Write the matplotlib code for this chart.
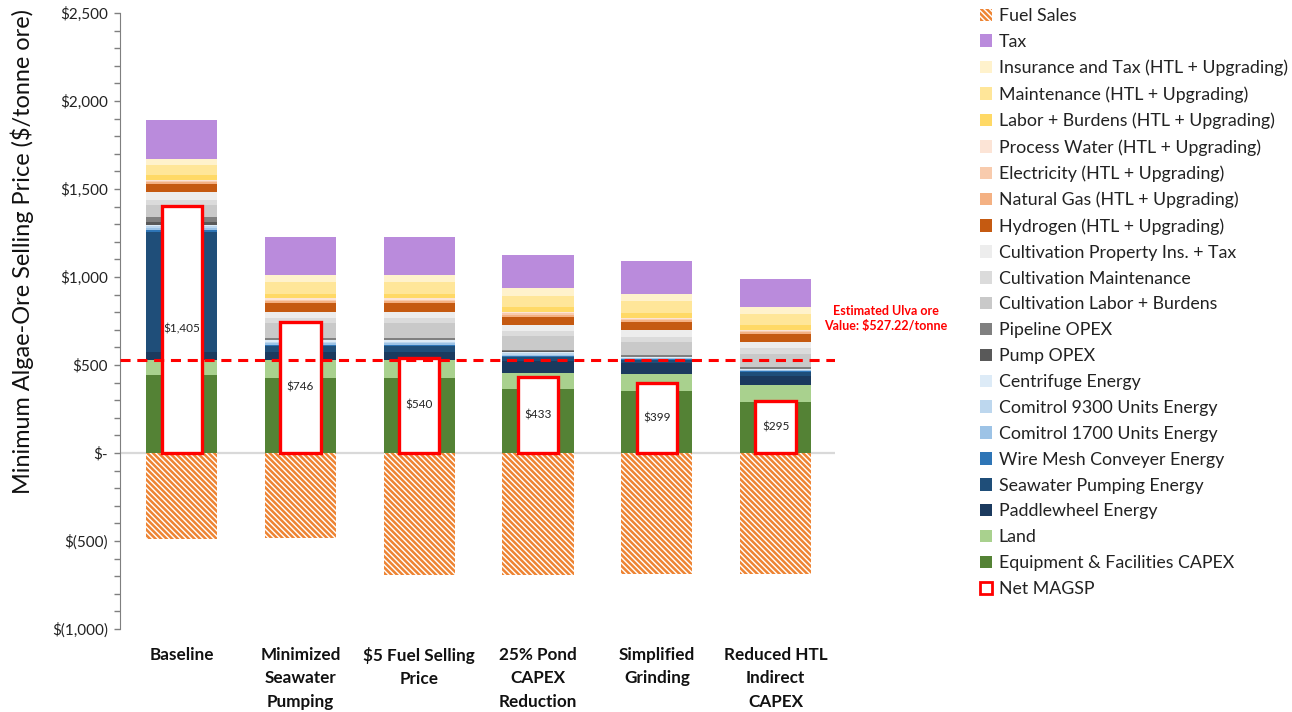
import matplotlib
matplotlib.use("Agg")
import matplotlib.pyplot as plt
from matplotlib.patches import Patch
from matplotlib.ticker import MultipleLocator, FuncFormatter
import matplotlib.transforms as mtransforms
import numpy as np

plt.rcParams['font.family'] = ['Lato', 'DejaVu Sans']
plt.rcParams['text.parse_math'] = False
plt.rcParams['hatch.linewidth'] = 1.8

# ---------------- data ----------------
scenarios = ["Baseline", "Minimized\nSeawater\nPumping", "$5 Fuel Selling\nPrice",
             "25% Pond\nCAPEX\nReduction", "Simplified\nGrinding", "Reduced HTL\nIndirect\nCAPEX"]

equipment   = [441, 424, 424, 362, 354, 292]
land        = [ 88, 104, 104,  95,  95,  95]
paddlewheel = [ 47,  47,  47,  67,  60,  51]
seawater    = [682,  32,  32,  20,  22,  25]
wire_mesh   = [  8,   8,   8,   6,   3,   3]
comitrol1700= [ 10,   9,   9,   8,   3,   4]
comitrol9300= [ 12,   9,   9,  10,   3,   3]
centrifuge  = [  8,   8,   8,   8,   3,   3]
pump_opex   = [ 19,   3,   3,   3,   3,   3]
pipeline    = [ 25,   8,   8,   6,   8,   8]
cult_labor  = [ 70,  85,  85,  80,  76,  75]
cult_maint  = [ 28,  28,  28,  30,  30,  32]
cult_prop   = [ 47,  38,  38,  32,  38,  34]
hydrogen    = [ 44,  47,  47,  47,  45,  47]
natural_gas = [ 10,  12,  12,  12,  11,  11]
electricity = [  7,   9,   9,   9,   8,   8]
process_wtr = [  5,   7,   7,   7,   6,   6]
labor       = [ 28,  28,  28,  25,  28,  26]
maintenance = [ 56,  66,  66,  64,  66,  62]
insurance   = [ 38,  42,  42,  44,  44,  41]
tax         = [218, 214, 216, 189, 184, 157]
fuel_sales  = [-487, -484, -692, -692, -688, -688]
net_magsp   = [1405, 746, 540, 433, 399, 295]
ore_value   = 527.22

stack = [
    ("Equipment & Facilities CAPEX", equipment, "#548235"),
    ("Land", land, "#A9D18E"),
    ("Paddlewheel Energy", paddlewheel, "#1B3A5E"),
    ("Seawater Pumping Energy", seawater, "#1F4E79"),
    ("Wire Mesh Conveyer Energy", wire_mesh, "#2E75B6"),
    ("Comitrol 1700 Units Energy", comitrol1700, "#9DC3E6"),
    ("Comitrol 9300 Units Energy", comitrol9300, "#BDD7EE"),
    ("Centrifuge Energy", centrifuge, "#DDEBF7"),
    ("Pump OPEX", pump_opex, "#595959"),
    ("Pipeline OPEX", pipeline, "#808080"),
    ("Cultivation Labor + Burdens", cult_labor, "#C9C9C9"),
    ("Cultivation Maintenance", cult_maint, "#DBDBDB"),
    ("Cultivation Property Ins. + Tax", cult_prop, "#EDEDED"),
    ("Hydrogen (HTL + Upgrading)", hydrogen, "#C55A11"),
    ("Natural Gas (HTL + Upgrading)", natural_gas, "#F4B183"),
    ("Electricity (HTL + Upgrading)", electricity, "#F8CBAD"),
    ("Process Water (HTL + Upgrading)", process_wtr, "#FCE4D6"),
    ("Labor + Burdens (HTL + Upgrading)", labor, "#FFD966"),
    ("Maintenance (HTL + Upgrading)", maintenance, "#FFE699"),
    ("Insurance and Tax (HTL + Upgrading)", insurance, "#FFF2CC"),
    ("Tax", tax, "#BA8BDC"),
]
fuel_color = "#EE8433"
HATCH = "\\\\\\\\\\\\"

# ---------------- figure ----------------
W, H = 1292, 712
fig = plt.figure(figsize=(W / 100, H / 100), dpi=100)
ax = fig.add_axes([120 / W, 1 - 629 / H, (835 - 120) / W, (629 - 13) / H])

x = np.arange(len(scenarios))
bw = 0.6
bottom = np.zeros(len(scenarios))
for name, vals, col in stack:
    v = np.array(vals, dtype=float)
    ax.bar(x, v, bw, bottom=bottom, color=col, linewidth=0, zorder=2)
    bottom += v

ax.bar(x, fuel_sales, bw, facecolor="white", edgecolor=fuel_color, hatch=HATCH,
       linewidth=0, zorder=2)

ax.bar(x, net_magsp, 0.34, facecolor="white", edgecolor="#FF0000", linewidth=2.4, zorder=3)
for xi, v in zip(x, net_magsp):
    ax.text(xi, v / 2, f"${v:,.0f}", ha="center", va="center", fontsize=8.5,
            color="#222222", zorder=4)

ax.axhline(0, color="#D9D9D9", lw=1.6, zorder=1)
ax.axhline(ore_value, color="#FF0000", lw=2.2, dashes=(3.3, 2.2), zorder=5)
ax.text(5.93, 764, "Estimated Ulva ore\nValue: $527.22/tonne", color="#FF0000",
        fontsize=9, fontweight="bold", ha="center", va="center", clip_on=False,
        linespacing=1.25)

ax.set_xlim(-0.52, 5.5)
ax.set_ylim(-1000, 2500)
ax.yaxis.set_major_locator(MultipleLocator(500))
ax.yaxis.set_minor_locator(MultipleLocator(100))


def fmt(v, pos):
    if abs(v) < 1e-6:
        return "$-"
    if v < 0:
        return f"$({-v:,.0f})"
    return f"${v:,.0f}"


ax.yaxis.set_major_formatter(FuncFormatter(fmt))
ax.tick_params(axis="y", which="both", direction="out", length=4.5, width=1,
               color="#7F7F7F", labelsize=11, labelcolor="#222222", pad=4)
ax.set_xticks([])

trans = mtransforms.blended_transform_factory(ax.transData, ax.transAxes)
for xi, lab in zip(x, scenarios):
    ax.text(xi, -(647 - 629) / 616, lab, transform=trans, ha="center", va="top",
            fontsize=12.3, fontweight="bold", color="#111111", linespacing=1.57,
            clip_on=False)

for s in ["top", "right", "bottom"]:
    ax.spines[s].set_visible(False)
ax.spines["left"].set_color("#7F7F7F")

fig.text(22 / W, 1 - 252 / H, "Minimum Algae-Ore Selling Price ($/tonne ore)",
         rotation=90, ha="center", va="center", fontsize=16.9, color="#111111")

# legend
handles = [Patch(facecolor="white", edgecolor=fuel_color, hatch=HATCH, linewidth=0,
                 label="Fuel Sales")]
for name, vals, col in reversed(stack):
    handles.append(Patch(facecolor=col, edgecolor="none", label=name))
handles.append(Patch(facecolor="white", edgecolor="#FF0000", linewidth=2, label="Net MAGSP"))

fig.legend(handles=handles, loc="upper left", bbox_to_anchor=(980 / W, 1 - 8 / H),
           frameon=False, fontsize=12.8, handlelength=0.7, handleheight=0.7,
           handletextpad=0.35, labelspacing=0.555, borderaxespad=0, borderpad=0,
           labelcolor="#222222")

fig.savefig("out.png", dpi=100)
